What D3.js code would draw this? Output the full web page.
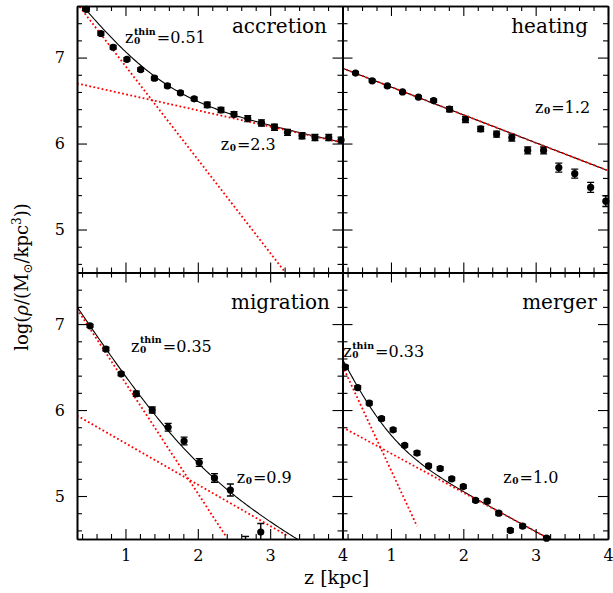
<!DOCTYPE html>
<html>
<head>
<meta charset="utf-8">
<script src="https://cdn.jsdelivr.net/npm/d3@7"></script>
<style>
  html, body { margin: 0; padding: 0; background: #fff; }
  svg { display: block; }
  text { font-family: "DejaVu Serif", serif; fill: #000; }
</style>
</head>
<body>
<script>
// data: z in kpc, log10 density
var panelNames = ["accretion", "heating", "migration", "merger"];

var accretionZ   = [0.46, 0.66, 0.83, 1.02, 1.21, 1.40, 1.58, 1.76, 1.95, 2.13, 2.32, 2.50, 2.69, 2.88, 3.06, 3.24, 3.44, 3.62, 3.81, 3.98];
var accretionRho = [7.56, 7.28, 7.12, 6.98, 6.86, 6.76, 6.67, 6.59, 6.52, 6.45, 6.39, 6.34, 6.29, 6.24, 6.19, 6.13, 6.09, 6.07, 6.07, 6.04];
var accretionErr = [0.02, 0.02, 0.02, 0.02, 0.02, 0.02, 0.02, 0.02, 0.02, 0.03, 0.03, 0.03, 0.035, 0.035, 0.035, 0.035, 0.035, 0.035, 0.035, 0.035];

var heatingZ   = [0.51, 0.74, 0.95, 1.16, 1.38, 1.59, 1.81, 2.03, 2.24, 2.46, 2.67, 2.89, 3.11, 3.32, 3.54, 3.76, 3.97];
var heatingRho = [6.82, 6.73, 6.67, 6.60, 6.54, 6.50, 6.40, 6.28, 6.17, 6.11, 6.07, 5.92, 5.92, 5.72, 5.65, 5.49, 5.33];
var heatingErr = [0.015, 0.015, 0.015, 0.015, 0.015, 0.02, 0.03, 0.035, 0.03, 0.035, 0.04, 0.04, 0.04, 0.052, 0.052, 0.058, 0.062];

var migrationZ   = [0.51, 0.73, 0.94, 1.15, 1.37, 1.59, 1.81, 2.02, 2.23, 2.45, 2.66, 2.87];
var migrationRho = [6.98, 6.71, 6.42, 6.19, 6.00, 5.80, 5.64, 5.39, 5.21, 5.07, 4.41, 4.58];
var migrationErr = [0.015, 0.02, 0.02, 0.03, 0.035, 0.045, 0.045, 0.045, 0.05, 0.07, 0.12, 0.1];

var mergerZ   = [0.37, 0.54, 0.70, 0.87, 1.03, 1.19, 1.36, 1.52, 1.68, 1.84, 2.00, 2.17, 2.33, 2.49, 2.65, 2.82, 3.15];
var mergerRho = [6.50, 6.26, 6.08, 5.90, 5.77, 5.59, 5.50, 5.35, 5.32, 5.20, 5.11, 4.95, 4.94, 4.80, 4.60, 4.65, 4.51];
var mergerErr = [0.02, 0.02, 0.02, 0.02, 0.02, 0.02, 0.02, 0.02, 0.02, 0.02, 0.02, 0.02, 0.02, 0.02, 0.02, 0.02, 0.02];

// exponential fit components as [zStart, logStart, zEnd, logEnd]
var accretionThin  = [0.33, 7.63, 3.21, 4.50];
var accretionThick = [0.33, 6.70, 4.00, 6.01];
var heatingThick   = [0.33, 6.876, 4.00, 5.685];
var migrationThin  = [0.33, 7.177, 2.39, 4.53];
var migrationThick = [0.33, 5.936, 3.245, 4.534];
var mergerThin     = [0.33, 6.514, 1.36, 4.65];
var mergerThick    = [0.33, 5.80, 3.24, 4.477];

// scale height labels
var accretionZ0 = ["0.51", "2.3"];
var heatingZ0   = [null, "1.2"];
var migrationZ0 = ["0.35", "0.9"];
var mergerZ0    = ["0.33", "1.0"];

var xTicks = [1, 2, 3, 4];
var yTicks = [5, 6, 7];

var panels = [
  { name: panelNames[0], col: 0, row: 0, z: accretionZ, rho: accretionRho, err: accretionErr,
    thin: accretionThin, thick: accretionThick, z0: accretionZ0,
    nameAt: [250, 27], thinAt: [48, 37.3], thickAt: [143.7, 144] },
  { name: panelNames[1], col: 1, row: 0, z: heatingZ, rho: heatingRho, err: heatingErr,
    thin: null, thick: heatingThick, z0: heatingZ0,
    nameAt: [245.5, 27], thinAt: null, thickAt: [192.5, 107.3] },
  { name: panelNames[2], col: 0, row: 1, z: migrationZ, rho: migrationRho, err: migrationErr,
    thin: migrationThin, thick: migrationThick, z0: migrationZ0,
    nameAt: [253, 36.8], thinAt: [54, 79.2], thickAt: [159.7, 210.8] },
  { name: panelNames[3], col: 1, row: 1, z: mergerZ, rho: mergerRho, err: mergerErr,
    thin: mergerThin, thick: mergerThick, z0: mergerZ0,
    nameAt: [254.2, 36.8], thinAt: [0.8, 84.8], thickAt: [160.8, 210.8] }
];

var W = 613, H = 593;
var padLeft = 77, padTop = 6, pw = 265.5, ph = 266.5;

var svg = d3.select("body").append("svg").attr("width", W).attr("height", H);

var x = d3.scaleLinear().domain([0.33, 4]).range([0, pw]);
var y = d3.scaleLinear().domain([4.5, 7.6]).range([ph, 0]);

var minorX = d3.range(0.4, 4.001, 0.2).map(function (v) { return +v.toFixed(1); })
  .filter(function (v) { return xTicks.indexOf(v) < 0; });
var minorY = d3.range(4.6, 7.601, 0.2).map(function (v) { return +v.toFixed(1); })
  .filter(function (v) { return yTicks.indexOf(v) < 0; });

// value of one fitted component at z (straight line in log space)
function comp(c, z) {
  return c[1] + (c[3] - c[1]) * (z - c[0]) / (c[2] - c[0]);
}

function z0Label(g, px, py, thin, value) {
  var t = g.append("text").attr("x", px).attr("y", py).style("font-size", "16px").text("z");
  var w = t.node().getComputedTextLength();
  var sub = g.append("text").attr("x", px + w + 0.5).attr("y", py + 1)
    .style("font-size", "9px").style("font-weight", "bold").text("0");
  var sw = sub.node().getComputedTextLength();
  if (thin) {
    var sup = g.append("text").attr("x", px + w + 0.5).attr("y", py - 8.3)
      .style("font-size", "9.5px").style("font-weight", "bold").text("thin");
    sw = Math.max(sw, sup.node().getComputedTextLength());
  }
  g.append("text").attr("x", px + w + sw + 1.5).attr("y", py).style("font-size", "16px").text("=" + value);
}

var line = d3.line().x(function (d) { return x(d[0]); }).y(function (d) { return y(d[1]); });
var zGrid = d3.range(0.33, 4.0001, 0.02);

function styleAxis(a) {
  a.select(".domain").attr("stroke", "#000").attr("stroke-width", 1.6);
  a.selectAll(".tick line").attr("stroke", "#000").attr("stroke-width", 1.1);
  a.selectAll(".tick text").style("font-family", "DejaVu Serif").style("font-size", "16px").attr("fill", "#000");
}

panels.forEach(function (p, i) {
  var g = svg.append("g")
    .attr("transform", "translate(" + (padLeft + p.col * pw) + "," + (padTop + p.row * ph) + ")");

  g.append("clipPath").attr("id", "clip" + i)
    .append("rect").attr("width", pw).attr("height", ph);
  var inner = g.append("g").attr("clip-path", "url(#clip" + i + ")");

  var pts = p.z.map(function (z, j) { return { z: z, v: p.rho[j], e: p.err[j] }; });

  // error bars
  var eb = inner.append("g").attr("stroke", "#000").attr("stroke-width", 1.4);
  pts.forEach(function (d) {
    eb.append("line").attr("x1", x(d.z)).attr("x2", x(d.z))
      .attr("y1", y(d.v - d.e)).attr("y2", y(d.v + d.e));
    [d.v - d.e, d.v + d.e].forEach(function (v) {
      eb.append("line").attr("x1", x(d.z) - 3.5).attr("x2", x(d.z) + 3.5)
        .attr("y1", y(v)).attr("y2", y(v));
    });
  });

  // points (those inside the y range)
  g.append("g").selectAll("circle")
    .data(pts.filter(function (d) { return d.v >= 4.5; }))
    .join("circle")
    .attr("cx", function (d) { return x(d.z); })
    .attr("cy", function (d) { return y(d.v); })
    .attr("r", 3.6)
    .attr("fill", "#000");

  // total model
  var total = zGrid.map(function (z) {
    var s = Math.pow(10, comp(p.thick, z));
    if (p.thin) s += Math.pow(10, comp(p.thin, z));
    return [z, Math.log10(s)];
  });
  inner.append("path").attr("d", line(total))
    .attr("fill", "none").attr("stroke", "#000").attr("stroke-width", 1.1);

  // components, dotted red
  [p.thin, p.thick].forEach(function (c) {
    if (!c) return;
    inner.append("path").attr("d", line([[c[0], c[1]], [c[2], c[3]]]))
      .attr("fill", "none").attr("stroke", "#ff0000").attr("stroke-width", 1.8)
      .attr("stroke-dasharray", "1.8,2.4");
  });

  // inward ticks on all four sides, labels only on outer edges
  var showX = p.row === 1, showY = p.col === 0;
  var axes = [
    [function () { return d3.axisBottom(x); }, "translate(0," + ph + ")", xTicks, minorX, showX, 11],
    [function () { return d3.axisTop(x); }, "translate(0,0)", xTicks, minorX, false, 11],
    [function () { return d3.axisLeft(y); }, "translate(0,0)", yTicks, minorY, showY, 12],
    [function () { return d3.axisRight(y); }, "translate(" + pw + ",0)", yTicks, minorY, false, 12]
  ];
  axes.forEach(function (a) {
    g.append("g").attr("transform", a[1])
      .call(a[0]().tickValues(a[3]).tickSizeInner(-5).tickSizeOuter(0).tickFormat(""))
      .call(styleAxis);
    g.append("g").attr("transform", a[1])
      .call(a[0]().tickValues(a[2]).tickSizeInner(-10).tickSizeOuter(0)
        .tickPadding(a[5]).tickFormat(a[4] ? d3.format("d") : function () { return ""; }))
      .call(styleAxis);
  });

  // panel name and scale heights
  g.append("text").attr("x", p.nameAt[0]).attr("y", p.nameAt[1])
    .attr("text-anchor", "end").style("font-size", "20px").text(p.name);
  if (p.thinAt) z0Label(g, p.thinAt[0], p.thinAt[1], true, p.z0[0]);
  z0Label(g, p.thickAt[0], p.thickAt[1], false, p.z0[1]);
});

// axis titles
svg.append("text").attr("x", 336.7).attr("y", 584).attr("text-anchor", "middle")
  .style("font-size", "19px").text("z [kpc]");

var yl = svg.append("text").attr("transform", "translate(28,277) rotate(-90)")
  .attr("text-anchor", "middle").style("font-size", "18px");
yl.append("tspan").text("log(");
yl.append("tspan").style("font-style", "italic").text("ρ");
yl.append("tspan").text("/(M");
yl.append("tspan").attr("dy", 4).style("font-size", "12px").text("⊙");
yl.append("tspan").attr("dy", -4).text("/kpc");
yl.append("tspan").attr("dy", -7).style("font-size", "12px").text("3");
yl.append("tspan").attr("dy", 7).text("))");
</script>
</body>
</html>
